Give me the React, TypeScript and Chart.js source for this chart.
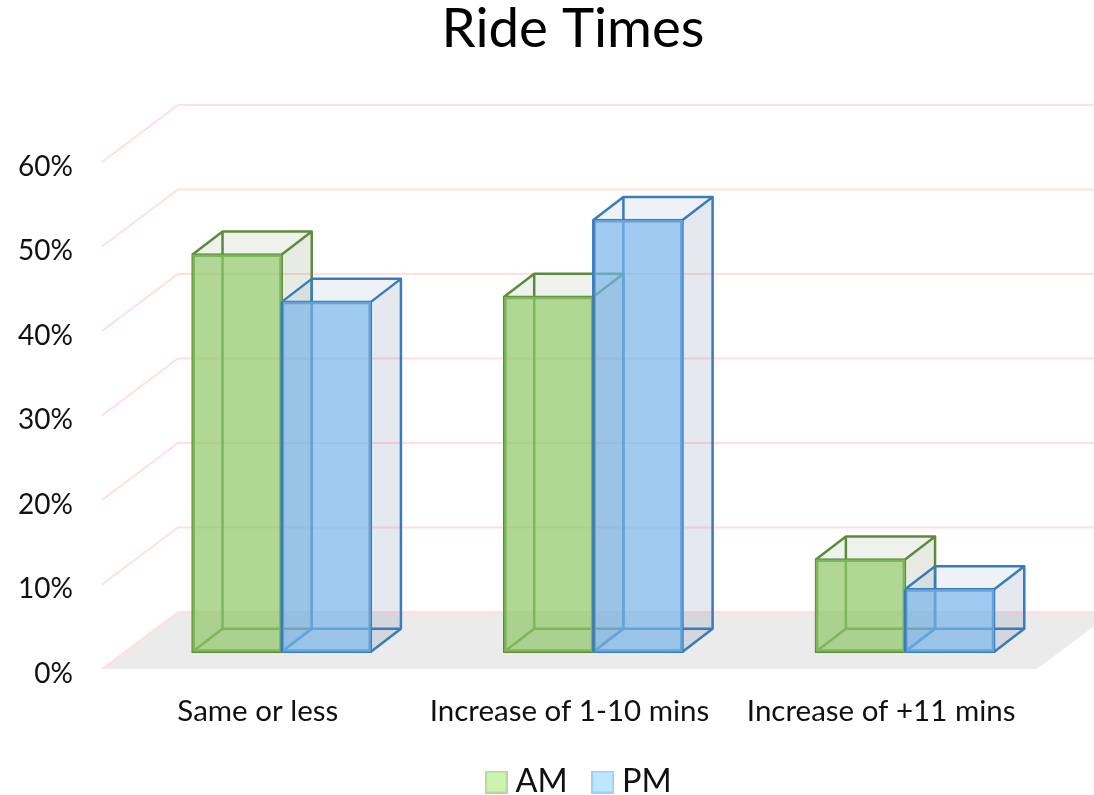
import React, { useEffect, useRef } from "react";
import { Chart, registerables } from "chart.js";

Chart.register(...registerables);

const categories = ["Same or less", "Increase of 1-10 mins", "Increase of +11 mins"];
const amValues = [47.0, 42.0, 10.9];
const pmValues = [41.4, 51.1, 7.4];
const tickValues = [0, 10, 20, 30, 40, 50, 60];
const seriesNames = ["AM", "PM"];

const FONT = "Lato";
const TEXT = "#111111";
const W = 1094;
const H = 795;
const AREA_TOP = 162;
const AREA_BOTTOM = 669;
const AREA_RIGHT = 1037;
const AREA_LEFT = 102;
const BOTTOM_OVERHANG = 12;
const TITLE_SIZE = 54.6;
const TITLE_LIFT = 3;
const TITLE_DX = 3.5;
const LEGEND_FONT = 32.5;
const LEGEND_PAD = 32;
const LEGEND_CENTER_Y = 782;
const LEGEND_DX = 64;
const WALL_DX = 76;
const WALL_DY = -57;
const BAR_DX = 23.9;
const BAR_DY = -17.3;
const DEPTH_DX = 30;
const DEPTH_DY = -23;
const EDGE = 2.5;

const STYLES = [
  { front: "rgba(142,199,102,0.7)", line: "#5c8c3b", top: "rgba(95,125,70,0.10)", side: "rgba(95,120,65,0.15)", key: "#cdf4ae", keyLine: "#b4d99b" },
  { front: "rgba(119,179,232,0.7)", line: "#397cbc", top: "rgba(70,110,150,0.09)", side: "rgba(70,100,140,0.14)", key: "#bde6ff", keyLine: "#9dcffc" },
];

function makeKey(fill: string, line: string) {
  const c = document.createElement("canvas");
  c.width = 23;
  c.height = 23;
  const g = c.getContext("2d")!;
  g.fillStyle = fill;
  g.fillRect(0, 0, 23, 23);
  g.strokeStyle = line;
  g.lineWidth = 2;
  g.strokeRect(1, 1, 21, 21);
  return c;
}

const scene3d = {
  id: "scene3d",
  afterLayout(chart: any) {
    chart.titleBlock.left += TITLE_DX;
    chart.titleBlock.right += TITLE_DX;
    const lg = chart.legend;
    lg.left += LEGEND_DX;
    lg.right += LEGEND_DX;
    const h = lg.bottom - lg.top;
    lg.top = LEGEND_CENTER_Y - LEGEND_PAD - LEGEND_FONT / 2;
    lg.bottom = lg.top + h;
  },
  beforeDatasetsDraw(chart: any) {
    const { ctx, chartArea: a, scales } = chart;
    const y0 = scales.y.getPixelForValue(0);
    ctx.save();
    ctx.beginPath();
    ctx.moveTo(a.left, y0);
    ctx.lineTo(a.left + WALL_DX, y0 + WALL_DY);
    ctx.lineTo(a.right + WALL_DX, y0 + WALL_DY);
    ctx.lineTo(a.right, y0);
    ctx.closePath();
    ctx.fillStyle = "#ebebeb";
    ctx.fill();

    ctx.strokeStyle = "#ffe0e0";
    ctx.lineWidth = 2;
    scales.y.ticks.forEach((t: any) => {
      const py = scales.y.getPixelForValue(t.value);
      ctx.beginPath();
      ctx.moveTo(a.left, py);
      ctx.lineTo(a.left + WALL_DX, py + WALL_DY);
      ctx.lineTo(W, py + WALL_DY);
      ctx.stroke();
    });
    ctx.restore();

    ctx.save();
    ctx.translate(BAR_DX, BAR_DY);
    chart.data.datasets.forEach((_: any, di: number) => {
      const s = STYLES[di];
      chart.getDatasetMeta(di).data.forEach((el: any) => {
        const l = el.x - el.width / 2;
        const r = el.x + el.width / 2;
        const t = el.y;
        const b = el.base;
        const dx = DEPTH_DX;
        const dy = DEPTH_DY;
        const poly = (pts: number[][], fill: string) => {
          ctx.beginPath();
          pts.forEach((p, i) => (i ? ctx.lineTo(p[0], p[1]) : ctx.moveTo(p[0], p[1])));
          ctx.closePath();
          ctx.fillStyle = fill;
          ctx.fill();
        };
        poly([[l, t], [l + dx, t + dy], [r + dx, t + dy], [r, t]], s.top);
        poly([[r, t], [r + dx, t + dy], [r + dx, b + dy], [r, b]], s.side);
        ctx.strokeStyle = s.line;
        ctx.lineWidth = EDGE;
        ctx.lineJoin = "round";
        ctx.beginPath();
        ctx.moveTo(l, t);
        ctx.lineTo(l + dx, t + dy);
        ctx.lineTo(r + dx, t + dy);
        ctx.lineTo(r, t);
        ctx.moveTo(r + dx, t + dy);
        ctx.lineTo(r + dx, b + dy);
        ctx.lineTo(r, b);
        ctx.moveTo(r + dx, b + dy);
        ctx.lineTo(l + dx, b + dy);
        ctx.lineTo(l, b);
        ctx.moveTo(l + dx, b + dy);
        ctx.lineTo(l + dx, t + dy);
        ctx.stroke();
      });
    });
  },
  afterDatasetsDraw(chart: any) {
    const { ctx } = chart;
    ctx.strokeStyle = STYLES[1].line;
    ctx.lineWidth = EDGE;
    chart.getDatasetMeta(1).data.forEach((el: any) => {
      const l = el.x - el.width / 2;
      ctx.beginPath();
      ctx.moveTo(l, el.y);
      ctx.lineTo(l, el.base);
      ctx.stroke();
    });
    ctx.restore();
  },
};

export default function App() {
  const ref = useRef<HTMLCanvasElement>(null);
  useEffect(() => {
    document.body.style.margin = "0";
    const keys = STYLES.map((s) => makeKey(s.key, s.keyLine));
    const chart = new Chart(ref.current!, {
      type: "bar",
      data: {
        labels: categories,
        datasets: [
          { label: seriesNames[0], data: amValues, backgroundColor: STYLES[0].front, borderColor: STYLES[0].line, borderWidth: EDGE / 2, inflateAmount: EDGE / 2, borderSkipped: false, clip: false as any },
          { label: seriesNames[1], data: pmValues, backgroundColor: STYLES[1].front, borderColor: STYLES[1].line, borderWidth: EDGE / 2, inflateAmount: EDGE / 2, borderSkipped: false, clip: false as any },
        ],
      },
      options: {
        responsive: false,
        animation: false,
        devicePixelRatio: 1,
        categoryPercentage: 0.5724,
        barPercentage: 1,
        layout: { autoPadding: false, padding: { top: 0, right: W - AREA_RIGHT, bottom: -BOTTOM_OVERHANG, left: 0 } },
        scales: {
          x: {
            grid: { display: false, drawTicks: false },
            border: { display: false },
            ticks: { color: TEXT, font: { family: FONT, size: 29.5 }, padding: 24.5, maxRotation: 0, autoSkip: false },
            afterFit: (s: any) => {
              s.height = H + BOTTOM_OVERHANG - AREA_BOTTOM - s.chart.legend.height;
              s.paddingLeft = 0;
              s.paddingRight = 0;
            },
          },
          y: {
            min: 0,
            max: 60,
            grid: { display: false, drawTicks: false },
            border: { display: false },
            afterBuildTicks: (s: any) => {
              s.ticks = tickValues.map((value) => ({ value }));
            },
            ticks: {
              color: TEXT,
              font: { family: FONT, size: 28 },
              padding: 29,
              labelOffset: 4.5,
              callback: (v: any) => `${v}%`,
            },
            afterFit: (s: any) => {
              s.width = AREA_LEFT;
              s.paddingTop = 0;
              s.paddingBottom = 0;
            },
          },
        },
        plugins: {
          tooltip: { enabled: false },
          title: {
            display: true,
            fullSize: false,
            text: "Ride Times",
            color: "#000000",
            font: { family: FONT, size: TITLE_SIZE, weight: "normal" },
            padding: { top: -TITLE_LIFT, bottom: AREA_TOP - TITLE_SIZE * 1.2 + TITLE_LIFT },
          },
          legend: {
            display: true,
            position: "bottom",
            labels: {
              color: TEXT,
              font: { family: FONT, size: LEGEND_FONT },
              usePointStyle: true,
              boxWidth: 6,
              boxHeight: 23,
              padding: LEGEND_PAD,
              generateLabels: () =>
                seriesNames.map((text, i) => ({ text, pointStyle: keys[i], datasetIndex: i, hidden: false, fontColor: TEXT })) as any,
            },
          },
        },
      } as any,
      plugins: [scene3d as any],
    });
    return () => chart.destroy();
  }, []);
  return <canvas ref={ref} width={W} height={H} style={{ display: "block" }} />;
}
